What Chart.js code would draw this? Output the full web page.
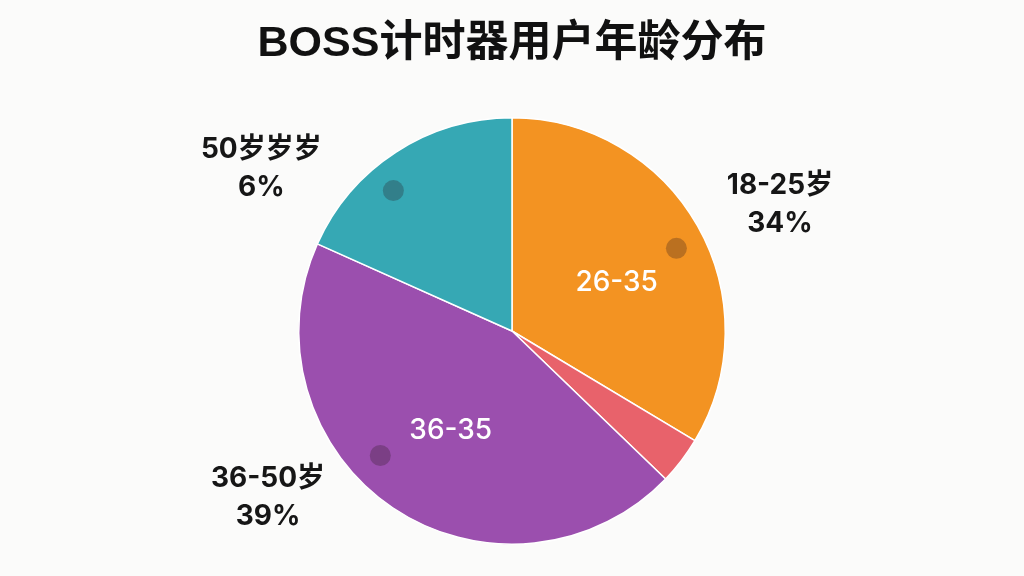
<!DOCTYPE html>
<html lang="zh">
<head>
    <meta charset="UTF-8">
    <title>BOSS计时器用户年龄分布</title>
    <script src="https://cdn.jsdelivr.net/npm/chart.js"></script>
    <style>
        html, body { margin: 0; padding: 0; background: #fbfbfa; }
        #wrap { width: 1024px; height: 576px; }
    </style>
</head>
<body>
    <div id="wrap"><canvas id="ageChart" width="1024" height="576"></canvas></div>

    <script>
        // 数据
        const chartTitle = 'BOSS计时器用户年龄分布';
        const categories = ['18-25岁', '其他', '36-50岁', '50岁岁岁'];
        const sliceValues = [33.6, 3.6, 44.5, 18.3];
        const outerLabels = [['18-25岁', '34%'], null, ['36-50岁', '39%'], ['50岁岁岁', '6%']];
        const innerLabels = ['26-35', null, '36-35', null];
        const sliceColors = ['#f39322', '#e8626b', '#9b4fae', '#36a8b4'];

        const labelFont = '"Inter", "Noto Sans CJK SC", sans-serif';

        // 标签和圆点的位置（角度从正上方顺时针，距离为半径倍数）
        const outerPlace = [{ a: 64.7, d: 1.39 }, null, { a: 235.7, d: 1.385 }, { a: 302.9, d: 1.40 }];
        const innerPlace = [{ a: 65.4, d: 0.54 }, null, { a: 211.5, d: 0.55 }, null];
        const dotPlace = [{ a: 63.3, d: 0.863 }, null, { a: 226.6, d: 0.85 }, { a: 319.8, d: 0.862 }];

        function polar(cx, cy, r, p) {
            const rad = p.a * Math.PI / 180;
            return { x: cx + p.d * r * Math.sin(rad), y: cy - p.d * r * Math.cos(rad) };
        }

        const labelPlugin = {
            id: 'sliceLabels',
            afterDatasetsDraw(chart) {
                const ctx = chart.ctx;
                const arc = chart.getDatasetMeta(0).data[0];
                const cx = arc.x, cy = arc.y, r = arc.outerRadius;
                ctx.save();
                ctx.textAlign = 'center';
                ctx.textBaseline = 'middle';

                dotPlace.forEach(p => {
                    if (!p) return;
                    const pt = polar(cx, cy, r, p);
                    ctx.beginPath();
                    ctx.arc(pt.x, pt.y, 10.5, 0, Math.PI * 2);
                    ctx.fillStyle = 'rgba(40, 20, 30, 0.28)';
                    ctx.fill();
                });

                ctx.fillStyle = '#ffffff';
                ctx.font = '500 28px ' + labelFont;
                innerLabels.forEach((txt, i) => {
                    if (!txt) return;
                    const pt = polar(cx, cy, r, innerPlace[i]);
                    ctx.fillText(txt, pt.x, pt.y);
                });

                ctx.fillStyle = '#161616';
                ctx.font = '700 28px ' + labelFont;
                outerLabels.forEach((lines, i) => {
                    if (!lines) return;
                    const pt = polar(cx, cy, r, outerPlace[i]);
                    ctx.fillText(lines[0], pt.x, pt.y - 19);
                    ctx.fillText(lines[1], pt.x, pt.y + 19);
                });
                ctx.restore();
            }
        };

        const ctx = document.getElementById('ageChart').getContext('2d');
        new Chart(ctx, {
            type: 'pie',
            data: {
                labels: categories,
                datasets: [{
                    data: sliceValues,
                    backgroundColor: sliceColors,
                    borderColor: '#ffffff',
                    borderWidth: 1.5
                }]
            },
            options: {
                responsive: false,
                animation: false,
                layout: { padding: { top: 0, bottom: 31 } },
                plugins: {
                    legend: { display: false },
                    tooltip: { enabled: false },
                    title: {
                        display: true,
                        text: chartTitle,
                        color: '#111111',
                        font: { family: '"Liberation Sans", "Noto Sans CJK SC", sans-serif', size: 43, weight: 'bold' },
                        padding: { top: 18, bottom: 47.4 }
                    }
                }
            },
            plugins: [labelPlugin]
        });
    </script>
</body>
</html>
